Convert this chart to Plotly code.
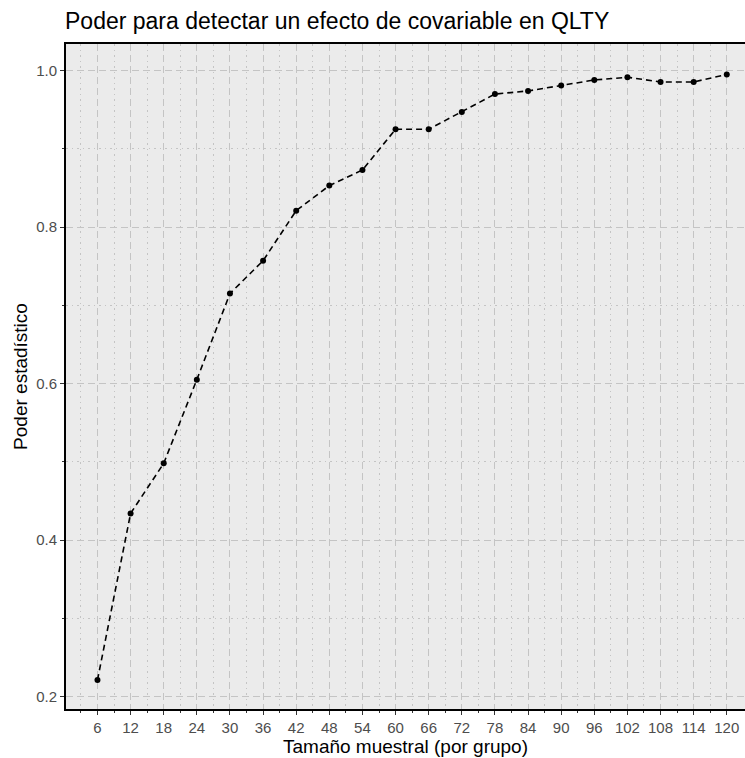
import plotly.graph_objects as go

# Data
sample_sizes = [6, 12, 18, 24, 30, 36, 42, 48, 54, 60, 66, 72, 78, 84, 90, 96, 102, 108, 114, 120]
power = [0.221, 0.434, 0.498, 0.605, 0.715, 0.757, 0.821, 0.853, 0.873, 0.925,
         0.925, 0.947, 0.970, 0.974, 0.981, 0.988, 0.9915, 0.9855, 0.9855, 0.995]
x_ticks = sample_sizes
y_ticks = [0.2, 0.4, 0.6, 0.8, 1.0]
y_tick_labels = ["0.2", "0.4", "0.6", "0.8", "1.0"]

title_text = "Poder para detectar un efecto de covariable en QLTY"
x_title = "Tamaño muestral (por grupo)"
y_title = "Poder estadístico"

fig = go.Figure()
fig.add_trace(go.Scatter(
    x=sample_sizes, y=power, mode="lines+markers",
    line=dict(color="black", width=1.6, dash="6px,4px"),
    marker=dict(color="black", size=6),
    showlegend=False, hoverinfo="skip",
))

grid_col = "#c4c4c4"
font_family = "Liberation Sans, Arial, sans-serif"

L, T, R, B = 66, 44, 0, 49
W, H = 745, 758
ph = H - T - B

fig.update_layout(
    width=W, height=H,
    margin=dict(l=L, r=R, t=T, b=B),
    paper_bgcolor="white",
    plot_bgcolor="#ebebeb",
    font=dict(family=font_family),
)

fig.add_annotation(
    text=title_text, xref="paper", yref="paper",
    x=(63 - L) / (W - L - R), y=1 + (T - 21) / ph,
    xanchor="left", yanchor="middle", showarrow=False,
    font=dict(size=23, color="black", family=font_family),
)

fig.update_xaxes(
    range=[0.3, 123.3],
    tickmode="array", tickvals=x_ticks, ticktext=[str(v) for v in x_ticks],
    ticks="outside", ticklen=4, tickwidth=1.2, tickcolor="#333333",
    tickfont=dict(size=15, color="#4d4d4d"),
    showline=True, linecolor="black", linewidth=1.8, mirror=True,
    showgrid=True, gridcolor=grid_col, gridwidth=1.3, griddash="7px,4px",
    minor=dict(tickmode="array", tickvals=[v - 3 for v in x_ticks], showgrid=True,
               gridcolor=grid_col, gridwidth=1.3, griddash="1.5px,4px",
               ticks="outside", ticklen=2, tickcolor="#333333"),
    zeroline=False,
    title=dict(text=x_title, font=dict(size=19, color="black"), standoff=2),
)

fig.update_yaxes(
    range=[0.184, 1.034],
    tickmode="array", tickvals=y_ticks, ticktext=y_tick_labels,
    ticks="outside", ticklen=4, tickwidth=1.2, tickcolor="#333333",
    tickfont=dict(size=15, color="#4d4d4d"),
    showline=True, linecolor="black", linewidth=1.8,
    showgrid=True, gridcolor=grid_col, gridwidth=1.3, griddash="7px,4px",
    minor=dict(tickmode="array", tickvals=[0.3, 0.5, 0.7, 0.9], showgrid=True,
               gridcolor=grid_col, gridwidth=1.3, griddash="1.5px,4px",
               ticks="outside", ticklen=2, tickcolor="#333333"),
    zeroline=False,
    title=dict(text=y_title, font=dict(size=19, color="black"), standoff=4),
)

fig.write_html("out.html")
